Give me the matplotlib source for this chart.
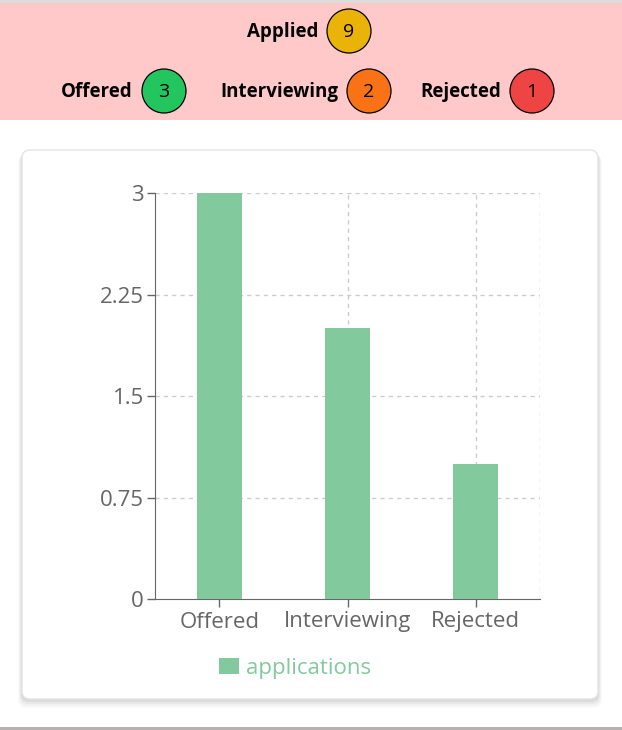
import matplotlib.pyplot as plt
from matplotlib.patches import FancyBboxPatch, Rectangle, Circle

plt.rcParams['font.family'] = ['Open Sans', 'DejaVu Sans']

categories = ["Offered", "Interviewing", "Rejected"]
applications = [3, 2, 1]
y_ticks = [0, 0.75, 1.5, 2.25, 3]
y_labels = ["0", "0.75", "1.5", "2.25", "3"]

status_names = ["Applied", "Offered", "Interviewing", "Rejected"]
status_counts = [9, 3, 2, 1]
status_colors = ["#eab308", "#22c55e", "#f97316", "#ef4444"]

W, H = 622, 730
fig = plt.figure(figsize=(W / 100, H / 100), dpi=100)
fig.patch.set_facecolor("white")

# background layer in pixel coords
bg = fig.add_axes([0, 0, 1, 1])
bg.set_xlim(0, W)
bg.set_ylim(H, 0)
bg.axis("off")

bg.add_patch(Rectangle((0, 0), W, 3, color="#dcdcdc", lw=0))
bg.add_patch(Rectangle((0, 3), W, 117, color="#ffc9c9", lw=0))
bg.add_patch(Rectangle((0, 727), W, 3, color="#b8b0b0", lw=0))

# card with soft shadow
for i, a in enumerate([0.05, 0.05, 0.04, 0.03, 0.02]):
    bg.add_patch(FancyBboxPatch((22 - i, 151 + i), 576 + 2 * i, 549 + i,
                                boxstyle="round,pad=0,rounding_size=8",
                                fc="black", ec="none", alpha=a))
bg.add_patch(FancyBboxPatch((22, 150), 576, 549,
                            boxstyle="round,pad=0,rounding_size=8",
                            fc="white", ec="#e5e5e5", lw=1))

# header badges
badge_pos = [(349, 31), (164, 91), (369, 91), (532, 91)]
for name, cnt, col, (cx, cy) in zip(status_names, status_counts, status_colors, badge_pos):
    bg.add_patch(Circle((cx, cy), 22, fc=col, ec="black", lw=0.9))
    bg.text(cx, cy + 1, str(cnt), ha="center", va="center", fontsize=14, color="black")
    bg.text(cx - 31, cy + 1, name, ha="right", va="center", fontsize=13.5,
            fontweight="bold", color="black")

# chart
ax = fig.add_axes([155 / W, (H - 599) / H, 385 / W, 406 / H])
ax.set_facecolor("none")
x = range(len(categories))
ax.bar(x, applications, width=0.35, color="#82ca9d", zorder=3, label="applications")
ax.set_xlim(-0.5, len(categories) - 0.5)
ax.set_ylim(0, 3)
ax.set_yticks(y_ticks)
ax.set_yticklabels(y_labels)
ax.set_xticks(list(x))
ax.set_xticklabels(categories)

for yv in y_ticks[1:]:
    ax.axhline(yv, color="#cccccc", ls=(0, (3, 3)), lw=1, zorder=1)
for xv in list(x) + [len(categories) - 0.5]:
    ax.axvline(xv, color="#cccccc", ls=(0, (3, 3)), lw=1, zorder=1)

for s in ["top", "right"]:
    ax.spines[s].set_visible(False)
for s in ["left", "bottom"]:
    ax.spines[s].set_color("#666666")
ax.tick_params(colors="#666666", labelsize=16, length=6, width=1)
ax.tick_params(axis="x", pad=3)
ax.tick_params(axis="y", pad=2)

leg = ax.legend(loc="upper center", bbox_to_anchor=(0.364, -0.095), frameon=False,
                fontsize=16, handlelength=0.9, handleheight=0.72, handletextpad=0.3)
for t in leg.get_texts():
    t.set_color("#82ca9d")

fig.savefig("out.png", dpi=100)
